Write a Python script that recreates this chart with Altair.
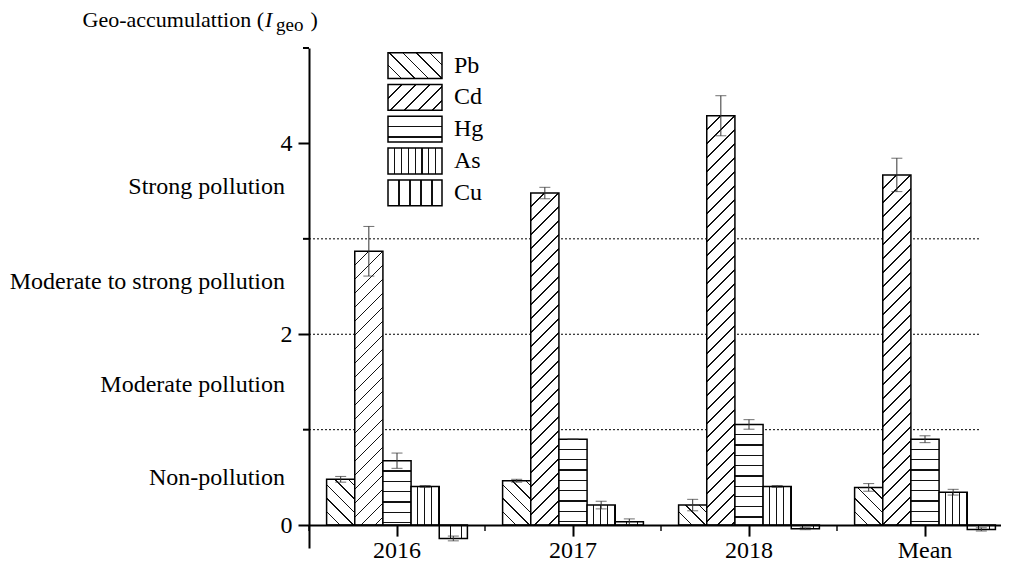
import altair as alt
import pandas as pd

# ---------------- data ----------------
years = ["2016", "2017", "2018", "Mean"]
metals = ["Pb", "Cd", "Hg", "As", "Cu"]
pb = [0.48, 0.465, 0.21, 0.395]
cd = [2.87, 3.48, 4.29, 3.67]
hg = [0.675, 0.90, 1.055, 0.90]
as_ = [0.405, 0.21, 0.405, 0.345]
cu = [-0.14, 0.035, -0.038, -0.045]
pb_err = [0.03, 0.015, 0.06, 0.04]
cd_err = [0.26, 0.06, 0.21, 0.175]
hg_err = [0.08, 0.0, 0.05, 0.036]
as_err = [0.01, 0.04, 0.01, 0.03]
cu_err = [0.025, 0.03, 0.01, 0.017]

y_ticks = [0, 2, 4]
y_minor = [1, 3, 5]
thresholds = [1, 2, 3]
classes = ["Non-pollution", "Moderate pollution",
           "Moderate to strong pollution", "Strong pollution"]
class_pos = [0.49, 1.47, 2.55, 3.54]
title_parts = ["Geo-accumulattion (", "I", "geo", ")"]

# ---------------- layout / style ----------------
FONT = "Liberation Serif"
H = 500
W = 692
RANGE_W = 704
YMIN, YMAX = -0.24, 5.0
PPU = H / (YMAX - YMIN)
PAD_IN, PAD_OUT = 0.2, 0.1
STEP = RANGE_W / (len(years) - PAD_IN + 2 * PAD_OUT)
BANDW = STEP * (1 - PAD_IN)
BAR_W = BANDW / len(metals)
LINE = "#111"

series = {"Pb": (pb, pb_err), "Cd": (cd, cd_err), "Hg": (hg, hg_err),
          "As": (as_, as_err), "Cu": (cu, cu_err)}
rows = []
for m in metals:
    vals, errs = series[m]
    for yr, v, e in zip(years, vals, errs):
        rows.append(dict(year=yr, metal=m, value=v, lo=v - e, hi=v + e))
df = pd.DataFrame(rows)

# pattern styles: (kind, period px, line thickness px)
patterns = {"Pb": ("back", 13.5, 1.8), "Cd": ("fwd", 14.0, 1.8),
            "Hg": ("h", 10.3, 1.3), "As": ("v", 6.8, 1.2), "Cu": ("v", 11.0, 1.2)}


def stripes(kind, w, h, period, thick):
    h = max(h, 0.5)
    if kind == "h":
        L = h
        x1, y1, x2, y2 = 0, 0, 0, 1
    elif kind == "v":
        L = w
        x1, y1, x2, y2 = 0, 0, 1, 0
    else:
        L = w + h
        k = (1 / h + 1 / w) / (1 / h ** 2 + 1 / w ** 2)
        if kind == "fwd":
            x1, y1, x2, y2 = 0, 0, k / h, k / w
        else:
            x1, y1, x2, y2 = 0, 1, k / h, 1 - k / w
    d = thick / 2
    st = [(0, "white")]
    c = period
    while c + d < L:
        a, b = round((c - d) / L, 5), round((c + d) / L, 5)
        st += [(a, "white"), (a, LINE), (b, LINE), (b, "white")]
        c += period
    st.append((1, "white"))
    return alt.LinearGradient(
        gradient="linear",
        stops=[alt.GradientStop(offset=o, color=col) for o, col in st],
        x1=x1, y1=y1, x2=x2, y2=y2)


# ---------------- encodings ----------------
xscale = alt.Scale(domain=years, range=[0, RANGE_W], paddingInner=PAD_IN, paddingOuter=PAD_OUT)
xaxis = alt.Axis(title=None, offset=-(H - YMAX * PPU), labelFont=FONT, labelFontSize=24,
                 labelColor="black", labelAngle=0, labelPadding=2, tickSize=11, tickWidth=2,
                 tickColor="black", domainColor="black", domainWidth=2, grid=False, zindex=1)
yscale = alt.Scale(domain=[YMIN, YMAX], nice=False, zero=False)
yaxis = alt.Axis(title=None, values=y_ticks, labelFont=FONT, labelFontSize=24, labelColor="black",
                 labelPadding=6, tickSize=11, tickWidth=2, tickColor="black",
                 domainColor="black", domainWidth=2, grid=False, zindex=1)
X = alt.X("year:N", scale=xscale, axis=xaxis, sort=years)
XO = alt.XOffset("metal:N", scale=alt.Scale(domain=metals, paddingInner=0, paddingOuter=0), sort=metals)


def Yf(field):
    return alt.Y(field, scale=yscale, axis=yaxis)


layers = []

# reference (dotted) lines
layers.append(
    alt.Chart(pd.DataFrame({"t": thresholds})).mark_rule(color="black", strokeWidth=1, strokeDash=[2, 2])
    .encode(y=Yf("t:Q"), x=alt.value(0), x2=alt.value(671)))

# bars
for m in metals:
    kind, per, th = patterns[m]
    vals = series[m][0]
    if kind == "v":
        layers.append(
            alt.Chart(df).transform_filter(alt.datum.metal == m)
            .mark_bar(fill=stripes(kind, BAR_W, 10, per, th), stroke="black", strokeWidth=1.5)
            .encode(x=X, xOffset=XO, y=Yf("value:Q"), y2=alt.Y2Datum(0)))
    else:
        for yr, v in zip(years, vals):
            layers.append(
                alt.Chart(df).transform_filter((alt.datum.metal == m) & (alt.datum.year == yr))
                .mark_bar(fill=stripes(kind, BAR_W, abs(v) * PPU, per, th), stroke="black", strokeWidth=1.5)
                .encode(x=X, xOffset=XO, y=Yf("value:Q"), y2=alt.Y2Datum(0)))

# error bars
layers.append(alt.Chart(df).mark_rule(color="#333", strokeWidth=1)
              .encode(x=X, xOffset=XO, y=Yf("lo:Q"), y2="hi:Q"))
for f in ["lo:Q", "hi:Q"]:
    layers.append(alt.Chart(df).mark_tick(color="#333", size=11, thickness=1)
                  .encode(x=X, xOffset=XO, y=Yf(f)))

# minor ticks
layers.append(alt.Chart(pd.DataFrame({"m": y_minor})).mark_rule(color="black", strokeWidth=2)
              .encode(y=Yf("m:Q"), x=alt.value(-6), x2=alt.value(0)))
layers.append(alt.Chart(pd.DataFrame({"year": years}))
              .mark_tick(orient="vertical", size=6, thickness=2, color="black",
                         xOffset=-(STEP * PAD_OUT), yOffset=3)
              .encode(x=alt.X("year:N", scale=xscale, axis=xaxis, sort=years, bandPosition=0),
                      y=alt.YDatum(0, scale=yscale, axis=yaxis)))

# pollution class labels
layers.append(alt.Chart(pd.DataFrame({"label": classes, "pos": class_pos}))
              .mark_text(align="right", baseline="middle", font=FONT, fontSize=24, color="black")
              .encode(y=Yf("pos:Q"), x=alt.value(-24), text="label:N"))

# y title pieces
tstyle = [(-45, -20.7, 22, "normal", "right"), (-44, -20.7, 22, "italic", "left"),
          (-33, -17.2, 19, "normal", "left"), (1.5, -20.7, 22, "normal", "left")]
for txt, (tx, ty, fs, sty, al) in zip(title_parts, tstyle):
    layers.append(alt.Chart(pd.DataFrame({"t": [txt]}))
                  .mark_text(align=al, baseline="alphabetic", font=FONT, fontSize=fs,
                             fontStyle=sty, color="black")
                  .encode(x=alt.value(tx), y=alt.value(ty), text="t:N"))

# legend
LEG_X, LEG_W, LEG_Y0, LEG_DY, LEG_H = 79, 54, 4.7, 31.8, 25.8
for i, m in enumerate(metals):
    kind, per, th = patterns[m]
    top = LEG_Y0 + i * LEG_DY
    layers.append(alt.Chart(pd.DataFrame({"metal": [m]}))
                  .mark_rect(fill=stripes(kind, LEG_W, LEG_H, per, th), stroke="black", strokeWidth=1.5)
                  .encode(x=alt.value(LEG_X), x2=alt.value(LEG_X + LEG_W),
                          y=alt.value(top), y2=alt.value(top + LEG_H)))
layers.append(alt.Chart(pd.DataFrame({"metal": metals, "i": list(range(len(metals)))}))
              .transform_calculate(py=f"{LEG_Y0} + datum.i * {LEG_DY} + {LEG_H / 2}")
              .mark_text(align="left", baseline="middle", font=FONT, fontSize=24, color="black")
              .encode(x=alt.value(LEG_X + LEG_W + 12), y=alt.Y("py:Q", scale=None, axis=None),
                      text="metal:N"))

chart = alt.layer(*layers).properties(
    width=W, height=H,
    padding={"left": 301, "top": 40, "right": 0, "bottom": 16},
    autosize=alt.AutoSizeParams(type="none"),
).configure_view(stroke=None)

chart.save("out.html", embed_options={"renderer": "svg", "actions": False})
